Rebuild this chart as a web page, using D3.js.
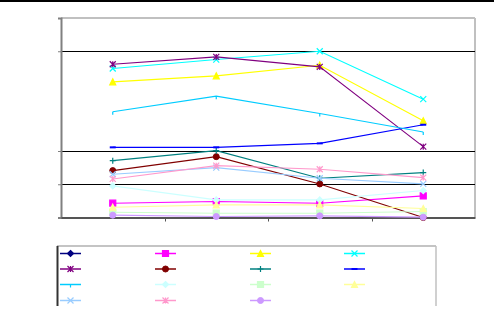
<!DOCTYPE html>
<html>
<head>
<meta charset="utf-8">
<style>
  body { margin: 0; background: #fff; }
  svg { display: block; }
</style>
</head>
<body>
<svg></svg>
<script src="https://cdn.jsdelivr.net/npm/d3@7"></script>
<script>
// categories (no labels in the original)
var categories = ["c1", "c2", "c3", "c4"];

// series values, Excel default order (series 1 has no visible points)
var s1  = [null, null, null, null];
var s2  = [0.43, 0.48, 0.43, 0.65];
var s3  = [4.08, 4.26, 4.58, 2.91];
var s4  = [4.48, 4.75, 5.00, 3.56];
var s5  = [4.61, 4.83, 4.53, 2.13];
var s6  = [1.41, 1.83, 1.01, 0.00];
var s7  = [1.71, 2.01, 1.18, 1.35];
var s8  = [2.11, 2.11, 2.23, 2.79];
var s9  = [3.18, 3.65, 3.13, 2.57];
var s10 = [0.95, 0.53, 0.53, 0.81];
var s11 = [0.16, 0.13, 0.13, 0.18];
var s12 = [0.31, 0.38, 0.38, 0.27];
var s13 = [1.30, 1.50, 1.18, 1.01];
var s14 = [1.16, 1.56, 1.45, 1.20];
var s15 = [0.07, 0.03, 0.05, 0.01];

var colors  = ["#000080","#ff00ff","#ffff00","#00ffff","#800080","#800000","#008080","#0000ff",
               "#00ccff","#ccffff","#ccffcc","#ffff99","#99ccff","#ff99cc","#cc99ff"];
var markers = ["diamond","square","triangle","x","star","circle","plus","dash",
               "tick","diamond","square","triangle","x","star","circle"];

var series = [s1,s2,s3,s4,s5,s6,s7,s8,s9,s10,s11,s12,s13,s14,s15].map(function(v, i){
  return {values: v, color: colors[i], marker: markers[i]};
});

var width = 494, height = 312;
var svg = d3.select("svg").attr("width", width).attr("height", height);

// black band on top
svg.append("rect").attr("x", 0).attr("y", 0).attr("width", width).attr("height", 2).attr("fill", "#000");

var pLeft = 61, pRight = 475, pTop = 18, pBottom = 217.5;

var x = d3.scaleBand().domain(categories).range([pLeft, pRight]);
var y = d3.scaleLinear().domain([0, 6]).range([pBottom, pTop]);

// plot frame (top / right light grey)
svg.append("line").attr("x1", pLeft).attr("x2", pRight).attr("y1", pTop).attr("y2", pTop)
  .attr("stroke", "#c0c0c0").attr("stroke-width", 2);
svg.append("line").attr("x1", pRight).attr("x2", pRight).attr("y1", pTop).attr("y2", pBottom)
  .attr("stroke", "#c0c0c0").attr("stroke-width", 2);

// gridlines
[1, 2, 5].forEach(function(v){
  svg.append("line").attr("x1", pLeft).attr("x2", pRight)
    .attr("y1", Math.round(y(v)) + 0.5).attr("y2", Math.round(y(v)) + 0.5)
    .attr("stroke", "#000").attr("stroke-width", 1);
});

// y axis (ticks only where the original shows them)
var yAxis = svg.append("g").attr("transform", "translate(" + pLeft + ",0)")
  .call(d3.axisLeft(y).tickValues([0, 1, 2, 5, 6]).tickSize(3).tickFormat(""));
yAxis.select(".domain").attr("stroke", "#808080").attr("stroke-width", 2);
yAxis.selectAll(".tick line").attr("stroke", "#808080");

// x axis, ticks at band boundaries
var xAxis = svg.append("g").attr("transform", "translate(0," + pBottom + ")")
  .call(d3.axisBottom(x).tickSize(0).tickFormat(""));
xAxis.select(".domain").attr("stroke", "#555").attr("stroke-width", 2);
xAxis.selectAll(".tick").remove();
categories.slice(1).forEach(function(c){
  xAxis.append("line").attr("x1", Math.round(x(c)) + 0.5).attr("x2", Math.round(x(c)) + 0.5)
    .attr("y1", 0).attr("y2", 4).attr("stroke", "#555");
});

function markerPath(type, s) {
  var h = s / 2;
  switch (type) {
    case "diamond":  return "M0," + (-h) + "L" + h + ",0L0," + h + "L" + (-h) + ",0Z";
    case "square":   return "M" + (-h) + "," + (-h) + "h" + s + "v" + s + "h" + (-s) + "Z";
    case "triangle": return "M0," + (-h) + "L" + h + "," + h + "L" + (-h) + "," + h + "Z";
    case "x":        return "M" + (-h) + "," + (-h) + "L" + h + "," + h + "M" + h + "," + (-h) + "L" + (-h) + "," + h;
    case "star":     return "M" + (-h) + "," + (-h) + "L" + h + "," + h + "M" + h + "," + (-h) + "L" + (-h) + "," + h + "M0," + (-h) + "L0," + h;
    case "plus":     return "M" + (-h) + ",0L" + h + ",0M0," + (-h) + "L0," + h;
    case "dash":     return "M" + (-h) + ",0L" + h + ",0";
    case "tick":     return "M0,0L0," + h;
  }
  return null;
}
var filled = {diamond: 1, square: 1, triangle: 1, circle: 1};

function drawMarker(g, d, cx, cy) {
  var s = 6;
  if (d.marker === "circle") {
    g.append("circle").attr("cx", cx).attr("cy", cy).attr("r", s / 2)
      .attr("fill", d.color).attr("stroke", d.color);
  } else {
    g.append("path").attr("transform", "translate(" + cx + "," + cy + ")")
      .attr("d", markerPath(d.marker, s))
      .attr("fill", filled[d.marker] ? d.color : "none")
      .attr("stroke", d.color).attr("stroke-width", d.marker === "dash" ? 2 : 1.2);
  }
}

var line = d3.line()
  .defined(function(v){ return v != null; })
  .x(function(v, i){ return x(categories[i]) + x.bandwidth() / 2; })
  .y(function(v){ return y(v); });

var plot = svg.append("g");
series.forEach(function(d){
  var g = plot.append("g");
  g.append("path").attr("d", line(d.values)).attr("fill", "none")
    .attr("stroke", d.color).attr("stroke-width", 1.1);
  d.values.forEach(function(v, i){
    if (v == null) return;
    drawMarker(g, d, x(categories[i]) + x.bandwidth() / 2, y(v));
  });
});

// legend
var lg = svg.append("g");
lg.append("line").attr("x1", 57).attr("x2", 436).attr("y1", 246).attr("y2", 246)
  .attr("stroke", "#b0b0b0").attr("stroke-width", 1.5);
lg.append("line").attr("x1", 436).attr("x2", 436).attr("y1", 246).attr("y2", 306)
  .attr("stroke", "#c0c0c0").attr("stroke-width", 1.5);
lg.append("line").attr("x1", 57.5).attr("x2", 57.5).attr("y1", 246).attr("y2", 306)
  .attr("stroke", "#333").attr("stroke-width", 2);

var colX = [60, 155, 250, 344];
var rowY = [253.5, 269, 284.5, 300.5];
series.forEach(function(d, i){
  var cx = colX[i % 4], cy = rowY[Math.floor(i / 4)];
  var g = lg.append("g");
  g.append("line").attr("x1", cx).attr("x2", cx + 21).attr("y1", cy).attr("y2", cy)
    .attr("stroke", d.color).attr("stroke-width", 1.5);
  drawMarker(g, d, cx + 10.5, cy);
});
</script>
</body>
</html>
